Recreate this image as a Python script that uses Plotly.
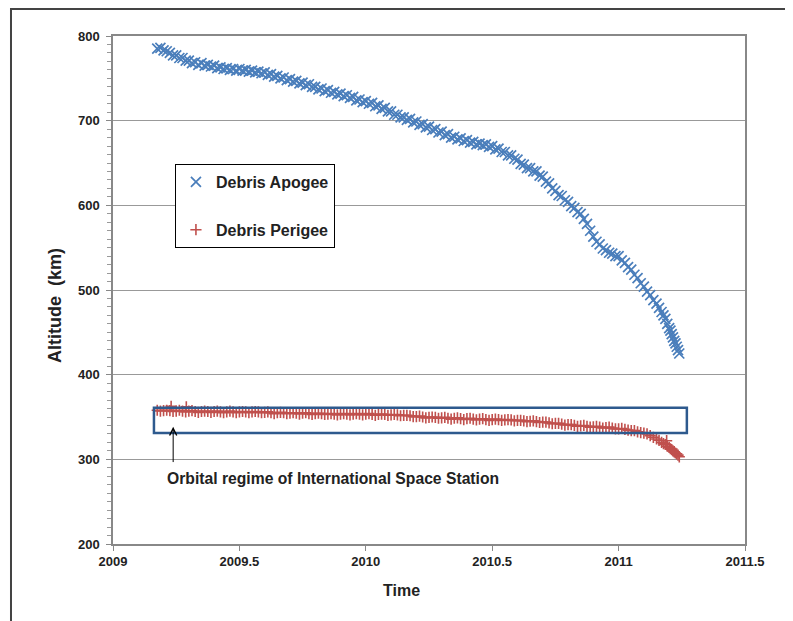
import plotly.graph_objects as go

# ---- data (years, km) ----
obs_t = [2009.1750, 2009.1875,
         2009.2000, 2009.2125, 2009.2250, 2009.2375, 2009.2500, 2009.2625, 2009.2750, 2009.2875,
         2009.3000, 2009.3125, 2009.3250, 2009.3375, 2009.3500, 2009.3625, 2009.3750, 2009.3875,
         2009.4000, 2009.4125, 2009.4250, 2009.4375, 2009.4500, 2009.4625, 2009.4750, 2009.4875,
         2009.5000, 2009.5125, 2009.5250, 2009.5375, 2009.5500, 2009.5625, 2009.5750, 2009.5875,
         2009.6000, 2009.6125, 2009.6250, 2009.6375, 2009.6500, 2009.6625, 2009.6750, 2009.6875,
         2009.7000, 2009.7125, 2009.7250, 2009.7375, 2009.7500, 2009.7625, 2009.7750, 2009.7875,
         2009.8000, 2009.8125, 2009.8250, 2009.8375, 2009.8500, 2009.8625, 2009.8750, 2009.8875,
         2009.9000, 2009.9125, 2009.9250, 2009.9375, 2009.9500, 2009.9625, 2009.9750, 2009.9875,
         2010.0000, 2010.0125, 2010.0250, 2010.0375, 2010.0500, 2010.0625, 2010.0750, 2010.0875,
         2010.1000, 2010.1125, 2010.1250, 2010.1375, 2010.1500, 2010.1625, 2010.1750, 2010.1875,
         2010.2000, 2010.2125, 2010.2250, 2010.2375, 2010.2500, 2010.2625, 2010.2750, 2010.2875,
         2010.3000, 2010.3125, 2010.3250, 2010.3375, 2010.3500, 2010.3625, 2010.3750, 2010.3875,
         2010.4000, 2010.4125, 2010.4250, 2010.4375, 2010.4500, 2010.4625, 2010.4750, 2010.4875,
         2010.5000, 2010.5125, 2010.5250, 2010.5375, 2010.5500, 2010.5625, 2010.5750, 2010.5875,
         2010.6000, 2010.6125, 2010.6250, 2010.6375, 2010.6500, 2010.6625, 2010.6750, 2010.6875,
         2010.7000, 2010.7125, 2010.7250, 2010.7375, 2010.7500, 2010.7625, 2010.7750, 2010.7875,
         2010.8000, 2010.8125, 2010.8250, 2010.8375, 2010.8500, 2010.8625, 2010.8750, 2010.8875,
         2010.9000, 2010.9125, 2010.9250, 2010.9375, 2010.9500, 2010.9625, 2010.9750, 2010.9875,
         2011.0000, 2011.0125, 2011.0250, 2011.0375, 2011.0500, 2011.0625, 2011.0750, 2011.0875,
         2011.1000, 2011.1125, 2011.1250, 2011.1375, 2011.1500,
         2011.1600, 2011.1700, 2011.1775, 2011.1850, 2011.1925, 2011.2000, 2011.2050,
         2011.2100, 2011.2150, 2011.2200, 2011.2250, 2011.2300, 2011.2350, 2011.2400]

apogee_km = [785, 786,
             783, 782, 780, 777, 777, 774, 774, 771,
             771, 768, 769, 766, 768, 765, 766, 764,
             765, 762, 763, 761, 762, 760, 761, 759,
             761, 759, 760, 758, 759, 757, 758, 756,
             757, 754, 755, 752, 753, 750, 751, 748,
             749, 746, 747, 744, 745, 742, 743, 740,
             740, 737, 738, 735, 736, 733, 734, 731,
             732, 729, 730, 727, 728, 724, 725, 722,
             723, 720, 721, 717, 718, 714, 715, 711,
             711, 707, 707, 704, 704, 701, 702, 698,
             699, 695, 696, 692, 693, 689, 690, 686,
             687, 683, 684, 680, 681, 678, 679, 676,
             677, 674, 675, 672, 673, 671, 672, 669,
             670, 666, 667, 663, 663, 659, 659, 655,
             654, 649, 648, 644, 644, 640, 640, 635,
             634, 628, 626, 620, 617, 612, 611, 606,
             604, 599, 597, 592, 590, 584, 578, 570,
             563, 557, 554, 549, 547, 544, 543, 540,
             540, 535, 532, 527, 524, 518, 514, 508,
             504, 498, 494, 488, 484,
             479, 474, 470, 466, 460, 455, 452,
             448, 444, 440, 437, 433, 429, 425]

perigee_km = [358, 357,
              357.5, 358, 357.5, 356.5, 357, 358, 357, 356,
              357, 357.5, 356.5, 355.5, 356.5, 357, 356.5, 355.5,
              356.5, 357, 356, 355, 356, 357, 356, 355,
              356, 356.5, 356, 355, 356, 356.5, 356, 355,
              355.5, 356, 355, 354, 355, 355.5, 355, 354,
              354.5, 355, 354.5, 353.5, 354.5, 355, 354, 353,
              354, 354.5, 354, 353, 353.5, 354, 353.5, 352.5,
              353.5, 354, 353.5, 352.5, 353.5, 354, 353.5, 352.5,
              353.5, 354, 353, 352, 353, 353.5, 353, 352,
              352.5, 353, 352.5, 351.5, 352, 352, 351.5, 350.5,
              350.5, 351, 350, 349, 349.5, 350, 349.5, 348.5,
              349, 349.5, 348.5, 347.5, 348.5, 349, 348, 347,
              348, 348.5, 347.5, 346.5, 347.5, 348, 347, 346,
              347, 347.5, 347, 346, 346.5, 347, 346.5, 345.5,
              346, 346, 345.5, 344.5, 345, 345.5, 344.5, 343.5,
              344, 344, 343, 342, 342.5, 342.5, 341.5, 340.5,
              341, 341, 340, 339, 339.5, 340, 339, 338,
              338.5, 339, 338, 337, 337.5, 338, 337, 336,
              336, 336.5, 335.5, 334.5, 334, 334, 332.5, 331.5,
              331, 330, 328, 326, 324,
              322.5, 320, 318.5, 317.5, 315.5, 314, 312.5,
              311.5, 310, 309, 307.5, 306.5, 305, 303]

# a few scattered perigee points away from the band
perigee_extra_t = [2009.230, 2009.290, 2011.190]
perigee_extra_km = [362.5, 362, 322]

x_ticks = [2009, 2009.5, 2010, 2010.5, 2011, 2011.5]
y_ticks = [200, 300, 400, 500, 600, 700, 800]

iss_band = [331, 361]           # km, orbital regime box
iss_span = [2009.162, 2011.27]  # years

FONT = "Liberation Sans, Arial, sans-serif"
TXT = "#222222"

fig = go.Figure()
fig.add_trace(go.Scatter(
    x=obs_t, y=apogee_km, mode="markers", name="Debris Apogee",
    legendgroup="a",
    marker=dict(symbol="x-thin", size=10, color="#4A7EBB",
                line=dict(width=1.7, color="#4A7EBB")),
))
fig.add_trace(go.Scatter(
    x=obs_t + perigee_extra_t, y=perigee_km + perigee_extra_km,
    mode="markers", name="Debris Perigee",
    legendgroup="b",
    marker=dict(symbol="cross-thin", size=8, color="#C0504D",
                line=dict(width=1.6, color="#C0504D")),
))

# ISS regime box
fig.add_shape(type="rect", xref="x", yref="y",
              x0=iss_span[0], x1=iss_span[1], y0=iss_band[0], y1=iss_band[1],
              line=dict(color="#2E5A8E", width=2.5), layer="above")

# outer chart frame
fig.add_shape(type="rect", xref="paper", yref="paper",
              x0=-0.1614, x1=1.0696, y0=-0.25, y1=1.0531,
              line=dict(color="#444444", width=2), layer="below")

# arrow
fig.add_annotation(x=2009.238, y=338.5, ax=2009.238, ay=295,
                   xref="x", yref="y", axref="x", ayref="y",
                   text="", showarrow=True, arrowhead=5, arrowsize=1.4,
                   arrowwidth=1, arrowcolor="#000000")
fig.add_annotation(x=2009.206, y=277.3, xref="x", yref="y",
                   text="Orbital regime of International Space Station",
                   showarrow=False, xanchor="left", yanchor="middle",
                   font=dict(family=FONT, size=15.7, color=TXT, weight="bold"))

# axis titles
fig.add_annotation(x=-0.1108, y=0.4705, xref="paper", yref="paper",
                   text="Altitude  (km)", textangle=-90, showarrow=False,
                   font=dict(family=FONT, size=18, color=TXT, weight="bold"))
fig.add_annotation(x=0.457, y=-0.1122, xref="paper", yref="paper",
                   text="Time", showarrow=False,
                   font=dict(family=FONT, size=16, color=TXT, weight="bold"))

fig.update_layout(
    width=785, height=613,
    margin=dict(l=105, r=48, t=28, b=77),
    paper_bgcolor="white", plot_bgcolor="white",
    font=dict(family=FONT, color=TXT),
    showlegend=True,
    legend=dict(x=0.098, y=0.748, xanchor="left", yanchor="top",
                bgcolor="white", bordercolor="#000000", borderwidth=1,
                font=dict(family=FONT, size=16, color=TXT, weight="bold"),
                traceorder="grouped", tracegroupgap=24, itemwidth=30),
    xaxis=dict(range=[2009, 2011.5], tickvals=x_ticks,
               ticktext=[str(v) for v in x_ticks],
               showgrid=False, zeroline=False,
               showline=True, linecolor="#888888", linewidth=1.5, mirror=True,
               ticks="outside", ticklen=5, tickcolor="#888888",
               tickfont=dict(family=FONT, size=13, color=TXT, weight="bold")),
    yaxis=dict(range=[200, 800], tickvals=y_ticks,
               showgrid=True, gridcolor="#999999", gridwidth=1, zeroline=False,
               showline=True, linecolor="#888888", linewidth=1.5, mirror=True,
               ticks="outside", ticklen=5, tickcolor="#888888", ticklabelstandoff=4,
               minor=dict(dtick=10, ticks="outside", ticklen=4, tickcolor="#999999", showgrid=False),
               tickfont=dict(family=FONT, size=13, color=TXT, weight="bold")),
)

fig.write_html("out.html")
